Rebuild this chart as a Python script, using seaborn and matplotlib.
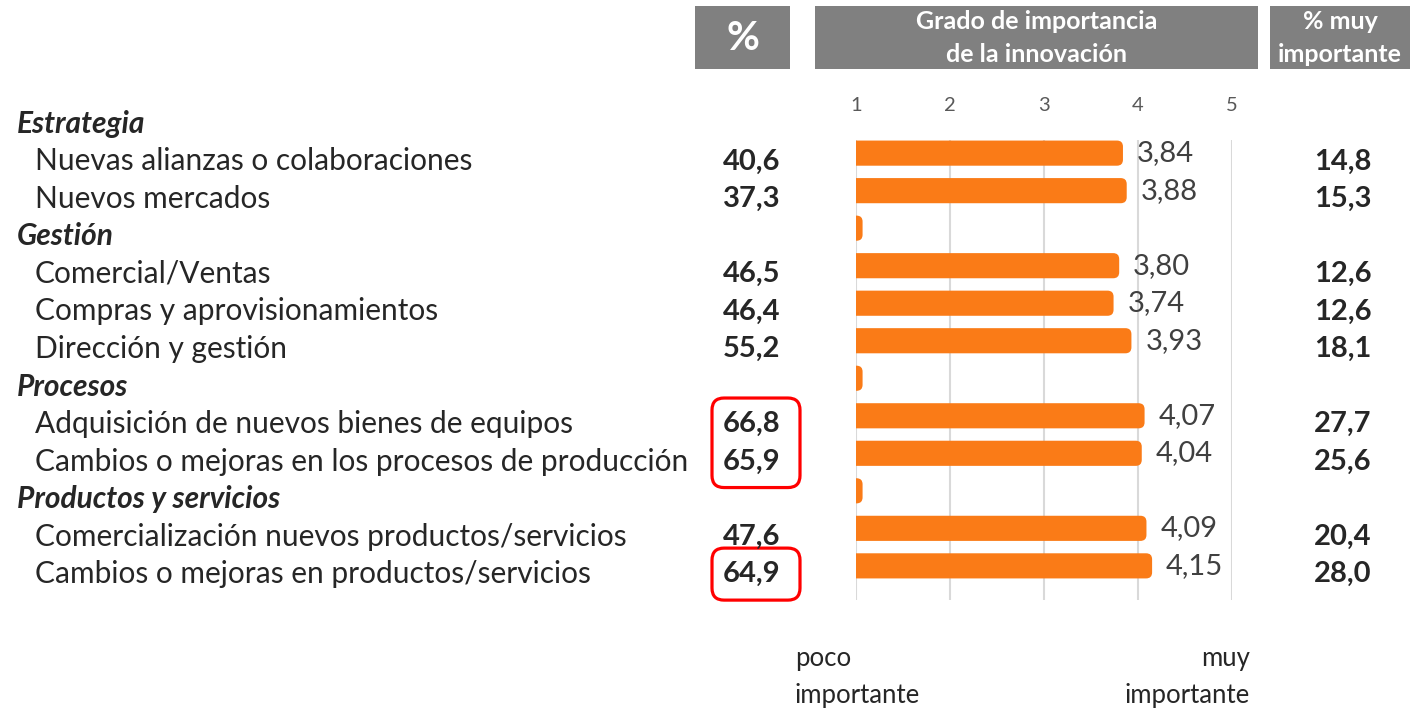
import seaborn as sns
import matplotlib.pyplot as plt
import matplotlib.transforms as mtransforms
from matplotlib.patches import Rectangle, FancyBboxPatch

sns.set_style("white")
plt.rcParams['font.family'] = ['Lato', 'DejaVu Sans']

# datos
rows = ["Estrategia", "Nuevas alianzas o colaboraciones", "Nuevos mercados",
        "Gestión", "Comercial/Ventas", "Compras y aprovisionamientos",
        "Dirección y gestión", "Procesos",
        "Adquisición de nuevos bienes de equipos",
        "Cambios o mejoras en los procesos de producción",
        "Productos y servicios",
        "Comercialización nuevos productos/servicios",
        "Cambios o mejoras en productos/servicios"]
header_rows = ["Estrategia", "Gestión", "Procesos", "Productos y servicios"]
pct = [None, 40.6, 37.3, None, 46.5, 46.4, 55.2, None, 66.8, 65.9, None, 47.6, 64.9]
grado = [None, 3.84, 3.88, 1.07, 3.80, 3.74, 3.93, 1.07, 4.07, 4.04, 1.07, 4.09, 4.15]
muy_imp = [None, 14.8, 15.3, None, 12.6, 12.6, 18.1, None, 27.7, 25.6, None, 20.4, 28.0]
ticks = [1, 2, 3, 4, 5]
# filas marcadas en rojo (grupos)
highlight = [["Adquisición de nuevos bienes de equipos",
              "Cambios o mejoras en los procesos de producción"],
             ["Cambios o mejoras en productos/servicios"]]

orange = "#fa7b17"
gray_head = "#808080"

W, H = 1416, 709
fig = plt.figure(figsize=(W / 100, H / 100), dpi=100)
ax = fig.add_axes([856 / W, 1 - 600 / H, 376 / W, 460 / H])

bar_rows = rows[1:]
sns.barplot(x=grado[1:], y=bar_rows, orient='h', color=orange, saturation=1,
            width=0.67, ax=ax)
ax.set_xlim(1, 5)
ax.set_ylim(len(bar_rows) - 1 + 0.91, -0.35)
ax.set_xticks(ticks)
ax.xaxis.tick_top()
ax.tick_params(axis='x', length=0, pad=19, labelsize=14.5, labelcolor='#595959')
ax.set_yticks([])
ax.set_xlabel('')
ax.set_ylabel('')
sns.despine(ax=ax, left=True, bottom=True, top=True, right=True)
ax.grid(axis='x', color='#d9d9d9', lw=1.5)
ax.set_axisbelow(True)

labels = ['' if r in header_rows else f"{v:.2f}".replace('.', ',')
          for r, v in zip(bar_rows, grado[1:])]
ax.bar_label(ax.containers[0], labels=labels, padding=10, fontsize=21, color='#404040')

# barras redondeadas
for p in list(ax.patches):
    fb = FancyBboxPatch((p.get_x(), p.get_y()), p.get_width(), p.get_height(),
                        boxstyle="round,pad=0,rounding_size=0.064",
                        mutation_aspect=94 / 37.5, fc=orange, ec='none', zorder=2)
    p.set_visible(False)
    ax.add_patch(fb)

tr = mtransforms.blended_transform_factory(fig.transFigure, ax.transData)
clip = mtransforms.Bbox([[0, 0], [697, H]])

def fmt(v):
    return f"{v:.1f}".replace('.', ',')

OFF = 0.22
for i, r in enumerate(rows):
    y = i - 1 + OFF
    if r in header_rows:
        fig.text(17 / W, y, r, transform=tr, fontsize=21.5, fontweight='bold',
                 style='italic', va='center', ha='left')
    else:
        t = fig.text(35 / W, y, r, transform=tr, fontsize=21.5, va='center', ha='left')
        t.set_clip_box(clip)
        t.set_clip_on(True)
    if pct[i] is not None:
        fig.text(752 / W, y, fmt(pct[i]), transform=tr, fontsize=21,
                 fontweight='bold', va='center', ha='center')
    if muy_imp[i] is not None:
        fig.text(1343 / W, y, fmt(muy_imp[i]), transform=tr, fontsize=21,
                 fontweight='bold', va='center', ha='center')

# cabeceras
heads = [(695, 790, "%", 29), (815, 1258, "Grado de importancia\nde la innovación", 18),
         (1270, 1410, "% muy\nimportante", 18)]
for x0, x1, txt, fs in heads:
    fig.add_artist(Rectangle((x0 / W, 1 - 69 / H), (x1 - x0) / W, 63 / H,
                             transform=fig.transFigure, fc=gray_head, ec='none'))
    fig.text((x0 + x1) / 2 / W, 1 - 38 / H, txt, color='white', fontweight='bold',
             fontsize=fs, ha='center', va='center', linespacing=1.5)

# recuadros rojos
inv = fig.transFigure.inverted()
for grp in highlight:
    idx = [rows.index(g) - 1 + OFF for g in grp]
    y_top = ax.transData.transform((1, min(idx)))[1] + 26
    y_bot = ax.transData.transform((1, max(idx)))[1] - 26
    (_, f_bot) = inv.transform((0, y_bot))
    (_, f_top) = inv.transform((0, y_top))
    fig.add_artist(FancyBboxPatch((712 / W, f_bot), 88 / W, f_top - f_bot,
                                  boxstyle="round,pad=0,rounding_size=0.0085",
                                  mutation_aspect=W / H, transform=fig.transFigure,
                                  fc='none', ec='#ff0000', lw=2.3))

# textos inferiores
fig.text(795 / W, 1 - 677 / H, "poco\nimportante", fontsize=18.5, ha='left', va='center',
         linespacing=1.6)
fig.text(1250 / W, 1 - 677 / H, "muy\nimportante", fontsize=18.5, ha='right', va='center',
         linespacing=1.6, multialignment='right')

fig.savefig('out.png', dpi=100)
